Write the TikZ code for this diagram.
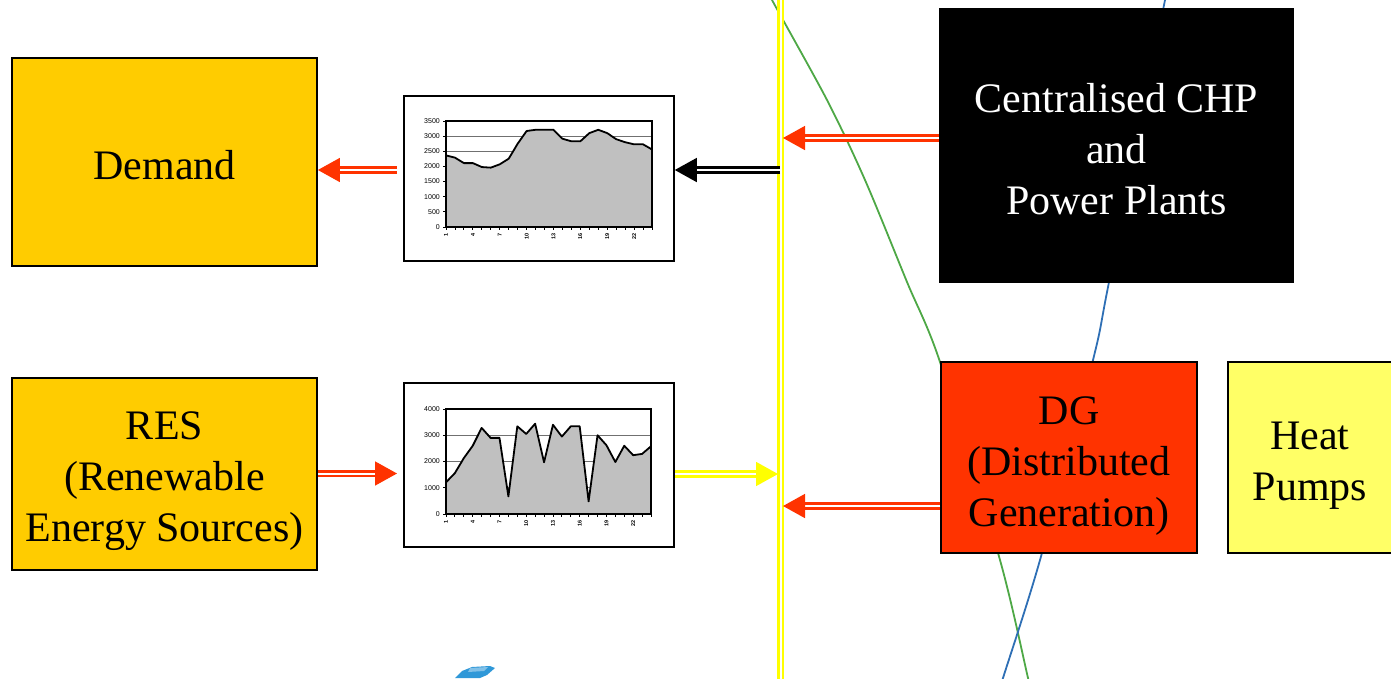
\documentclass[tikz,border=0pt]{standalone}
\usepackage{fontspec}
\setmainfont{Liberation Serif}
\newfontfamily\chartfont{Liberation Sans}
\usetikzlibrary{arrows.meta}
\definecolor{boxgold}{HTML}{FFCC00}
\definecolor{dgred}{HTML}{FF3300}
\definecolor{hpyellow}{HTML}{FFFF66}
\definecolor{busyellow}{HTML}{FFFF00}
\definecolor{areagray}{HTML}{C0C0C0}
\definecolor{curvegreen}{HTML}{4EA846}
\definecolor{curveblue}{HTML}{2E6FB5}
\definecolor{blobblue}{HTML}{2F98D8}
\definecolor{gridgray}{HTML}{707070}
\begin{document}
\begin{tikzpicture}[x=1pt,y=-1pt,
  block/.style={draw=black, line width=1.8pt, inner sep=0pt},
  bigtext/.style={inner sep=0pt, font=\fontsize{42}{51}\selectfont, align=center},
  chartframe/.style={draw=black, line width=1.6pt, fill=white, inner sep=0pt},
  gridline/.style={draw=gridgray, line width=0.9pt},
  dataline/.style={draw=black, line width=1.8pt, line join=round},
  plotborder/.style={draw=black, line width=1.3pt},
  axistick/.style={draw=black, line width=0.9pt},
  ylab/.style={anchor=east, inner sep=0pt, font=\chartfont\fontsize{7}{8}\selectfont},
  xlab/.style={anchor=east, rotate=90, inner sep=0pt, font=\chartfont\bfseries\fontsize{5.5}{6}\selectfont},
  dbl/.style={draw=none,
    postaction={draw=#1, double=white, double distance=2pt, line width=2.8pt, shorten >=18pt},
    postaction={draw=white, line width=1.6pt, shorten <=3pt, -{Triangle[length=22pt,width=24pt,color=#1]}}},
  bus/.style={draw=busyellow, double=white, double distance=2pt, line width=2.8pt},
  curve/.style={line width=1.8pt}
]
\useasboundingbox (0,0) rectangle (1391,678);
\clip (0,0) rectangle (1391,678);

% background curves
\draw[curve, curvegreen] plot[smooth, tension=0.5] coordinates {(765,-15) (772,0) (827,100) (865,180) (907,282) (940,362) (1000,560) (1028,678) (1032,695)};
\draw[curve, curveblue] plot[smooth, tension=0.5] coordinates {(1168,-15) (1165,0) (1109,282) (1093,360) (1040,560) (1003,678) (998,695)};

% blue fragment bottom
\fill[blobblue] (455,678) -- (462,671) -- (472,667) -- (490,666) -- (495,668) -- (487,675) -- (480,678) -- cycle;
\fill[blobblue!60!white] (470,668) -- (488,667) -- (484,671) -- (468,672) -- cycle;

% bus bar
\coordinate (busTop) at (780.5,-5);
\coordinate (busBot) at (780.5,683);
\draw[bus] (busTop) -- (busBot);

% blocks
\node[block, fill=boxgold, minimum width=305, minimum height=208] (demand) at (164.5,162) {};
\node[bigtext] (demandtext) at ([yshift=-3pt]demand.center) {Demand};
\node[block, fill=boxgold, minimum width=305, minimum height=192] (res) at (164.5,474) {};
\node[bigtext] (restext) at ([yshift=-7pt]res.center) {RES\\(Renewable\\Energy Sources)};
\node[block, fill=black, minimum width=353, minimum height=273] (chp) at (1116.5,145.5) {};
\node[bigtext, text=white] (chptext) at ([yshift=-4pt]chp.center) {Centralised CHP\\and\\ Power Plants};
\node[block, fill=dgred, minimum width=256, minimum height=191] (dg) at (1069,457.5) {};
\node[bigtext] (dgtext) at ([yshift=-9pt]dg.center) {DG\\(Distributed\\Generation)};
\node[block, fill=hpyellow, minimum width=164, minimum height=191] (hp) at (1310,457.5) {};
\node[bigtext] (hptext) at ([yshift=-8pt]hp.center) {Heat\\Pumps};

% ---------- chart 1 (demand) ----------
\node[chartframe, minimum width=270, minimum height=165] (chartD) at (539,178.5) {};
\foreach \v in {2500,3000}
  \draw[gridline] (446,{227-\v/3500*106}) -- (652,{227-\v/3500*106});
\foreach \v [count=\i] in {2365,2290,2110,2110,1980,1960,2070,2255,2750,3170,3210,3210,3210,2915,2830,2830,3100,3210,3100,2900,2800,2730,2730,2560}
  \coordinate (d\i) at ({446+(\i-1)*206/23},{227-\v/3500*106});
\fill[areagray] (446,227) \foreach \i in {1,...,24}{ -- (d\i)} -- (652,227) -- cycle;
\draw[dataline] (d1) \foreach \i in {2,...,24}{ -- (d\i)};
\draw[plotborder] (446,121) rectangle (652,227);
\foreach \v in {0,500,...,3500}{
  \draw[axistick] (443,{227-\v/3500*106}) -- (446,{227-\v/3500*106});
  \node[ylab] at (440,{227-\v/3500*106}) {\v};
}
\foreach \i in {1,...,24}
  \draw[axistick] ({446+(\i-1)*206/23},227) -- ({446+(\i-1)*206/23},230);
\foreach \i in {1,4,7,10,13,16,19,22}
  \node[xlab] at ({446+(\i-1)*206/23},233) {\i};

% ---------- chart 2 (RES) ----------
\node[chartframe, minimum width=270, minimum height=164] (chartR) at (539,465) {};
\foreach \v in {1000,2000,3000}
  \draw[gridline] (446,{514-\v/4000*105}) -- (651,{514-\v/4000*105});
\foreach \v [count=\i] in {1206,1560,2130,2600,3280,2900,2900,670,3340,3050,3440,1970,3400,2950,3340,3340,480,3000,2620,1980,2600,2240,2290,2580}
  \coordinate (r\i) at ({446+(\i-1)*205/23},{514-\v/4000*105});
\fill[areagray] (446,514) \foreach \i in {1,...,24}{ -- (r\i)} -- (651,514) -- cycle;
\draw[dataline] (r1) \foreach \i in {2,...,24}{ -- (r\i)};
\draw[plotborder] (446,409) rectangle (651,514);
\foreach \v in {0,1000,...,4000}{
  \draw[axistick] (443,{514-\v/4000*105}) -- (446,{514-\v/4000*105});
  \node[ylab] at (440,{514-\v/4000*105}) {\v};
}
\foreach \i in {1,...,24}
  \draw[axistick] ({446+(\i-1)*205/23},514) -- ({446+(\i-1)*205/23},517);
\foreach \i in {1,4,7,10,13,16,19,22}
  \node[xlab] at ({446+(\i-1)*205/23},520) {\i};

% ---------- connectors ----------
\coordinate (busCHP) at (783,138);
\coordinate (busDG) at (783,506);
\coordinate (busRES) at (778,474);
\coordinate (busLoad) at (780,170);
\coordinate (demOut) at (397,170);
\coordinate (resTip) at (397,473.5);

\draw[dbl=dgred] (chp.west |- busCHP) -- (busCHP);
\draw[dbl=dgred] (dg.west |- busDG) -- (busDG);
\draw[dbl=black] (busLoad) -- (chartD.east |- busLoad);
\draw[dbl=dgred] (demOut) -- (demand.east |- demOut);
\draw[dbl=dgred] (res.east |- resTip) -- (resTip);
\draw[dbl=busyellow] (chartR.east |- busRES) -- (busRES);
\end{tikzpicture}
\end{document}
